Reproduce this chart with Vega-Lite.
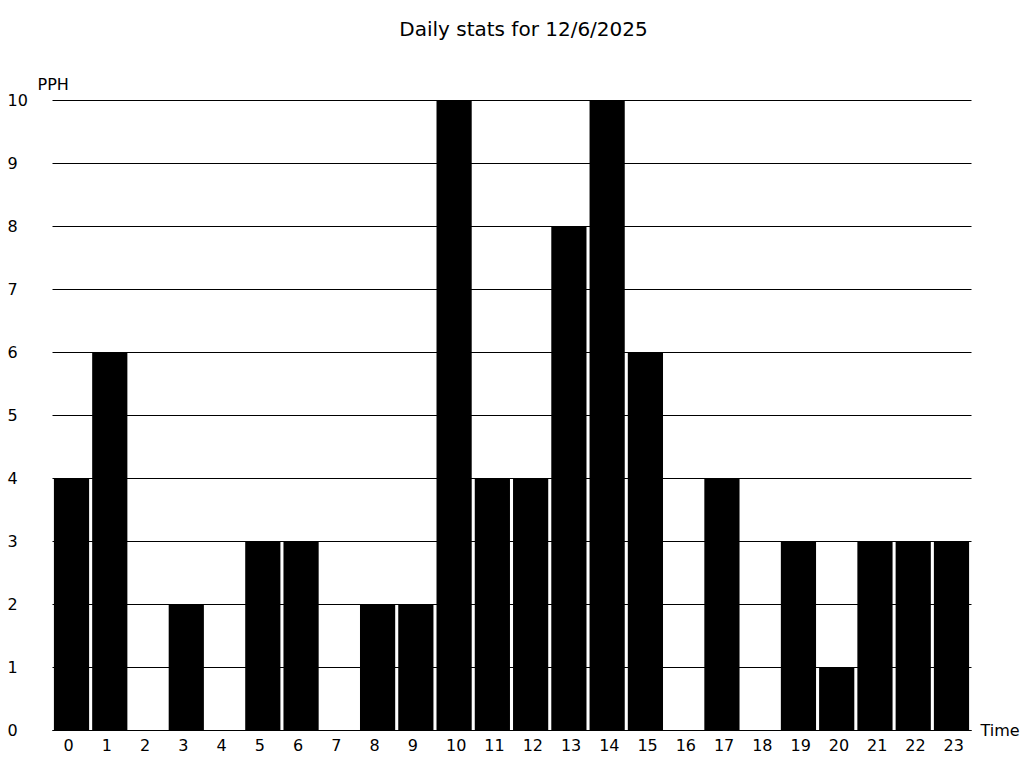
{
  "$schema": "https://vega.github.io/schema/vega-lite/v6.json",
  "width": 919,
  "height": 630,
  "autosize": "none",
  "padding": {"left": 52, "top": 100, "right": 53, "bottom": 38},
  "background": "white",
  "title": {
    "text": "Daily stats for 12/6/2025",
    "font": "DejaVu Sans",
    "fontSize": 20,
    "fontWeight": "normal",
    "color": "black",
    "anchor": "middle",
    "offset": 36,
    "dx": 12
  },
  "data": {
    "values": [
      {"hour": 0, "pph": 4}, {"hour": 1, "pph": 6}, {"hour": 2, "pph": 0},
      {"hour": 3, "pph": 2}, {"hour": 4, "pph": 0}, {"hour": 5, "pph": 3},
      {"hour": 6, "pph": 3}, {"hour": 7, "pph": 0}, {"hour": 8, "pph": 2},
      {"hour": 9, "pph": 2}, {"hour": 10, "pph": 10}, {"hour": 11, "pph": 4},
      {"hour": 12, "pph": 4}, {"hour": 13, "pph": 8}, {"hour": 14, "pph": 10},
      {"hour": 15, "pph": 6}, {"hour": 16, "pph": 0}, {"hour": 17, "pph": 4},
      {"hour": 18, "pph": 0}, {"hour": 19, "pph": 3}, {"hour": 20, "pph": 1},
      {"hour": 21, "pph": 3}, {"hour": 22, "pph": 3}, {"hour": 23, "pph": 3}
    ]
  },
  "config": {
    "view": {"stroke": null},
    "font": "DejaVu Sans"
  },
  "mark": {"type": "bar", "color": "black"},
  "encoding": {
    "x": {
      "field": "hour",
      "type": "ordinal",
      "sort": "ascending",
      "scale": {"paddingInner": 0.08, "paddingOuter": 0.05},
      "axis": {
        "title": "Time",
        "titleFont": "DejaVu Sans",
        "titleFontSize": 16,
        "titleFontWeight": "normal",
        "titleColor": "black",
        "titleAngle": 0,
        "titleAlign": "left",
        "titleBaseline": "middle",
        "titleAnchor": "start",
        "titleX": 928,
        "titleY": 0,
        "labelAngle": 0,
        "labelAlign": "left",
        "labelBaseline": "middle",
        "labelOffset": -8,
        "labelPadding": 15,
        "labelFont": "DejaVu Sans",
        "labelFontSize": 16,
        "labelColor": "black",
        "ticks": false,
        "tickSize": 0,
        "domain": true,
        "domainColor": "black",
        "domainWidth": 1,
        "grid": false
      }
    },
    "y": {
      "field": "pph",
      "type": "quantitative",
      "scale": {"domain": [0, 10], "nice": false},
      "axis": {
        "title": "PPH",
        "titleFont": "DejaVu Sans",
        "titleFontSize": 16,
        "titleFontWeight": "normal",
        "titleColor": "black",
        "titleAngle": 0,
        "titleAlign": "left",
        "titleBaseline": "middle",
        "titleX": -15,
        "titleY": -16,
        "values": [0, 1, 2, 3, 4, 5, 6, 7, 8, 9, 10],
        "labelAlign": "left",
        "labelBaseline": "middle",
        "labelPadding": 45,
        "labelFont": "DejaVu Sans",
        "labelFontSize": 16,
        "labelColor": "black",
        "ticks": false,
        "tickSize": 0,
        "domain": false,
        "grid": true,
        "gridColor": "black",
        "gridWidth": 1,
        "gridOpacity": 1
      }
    }
  }
}
